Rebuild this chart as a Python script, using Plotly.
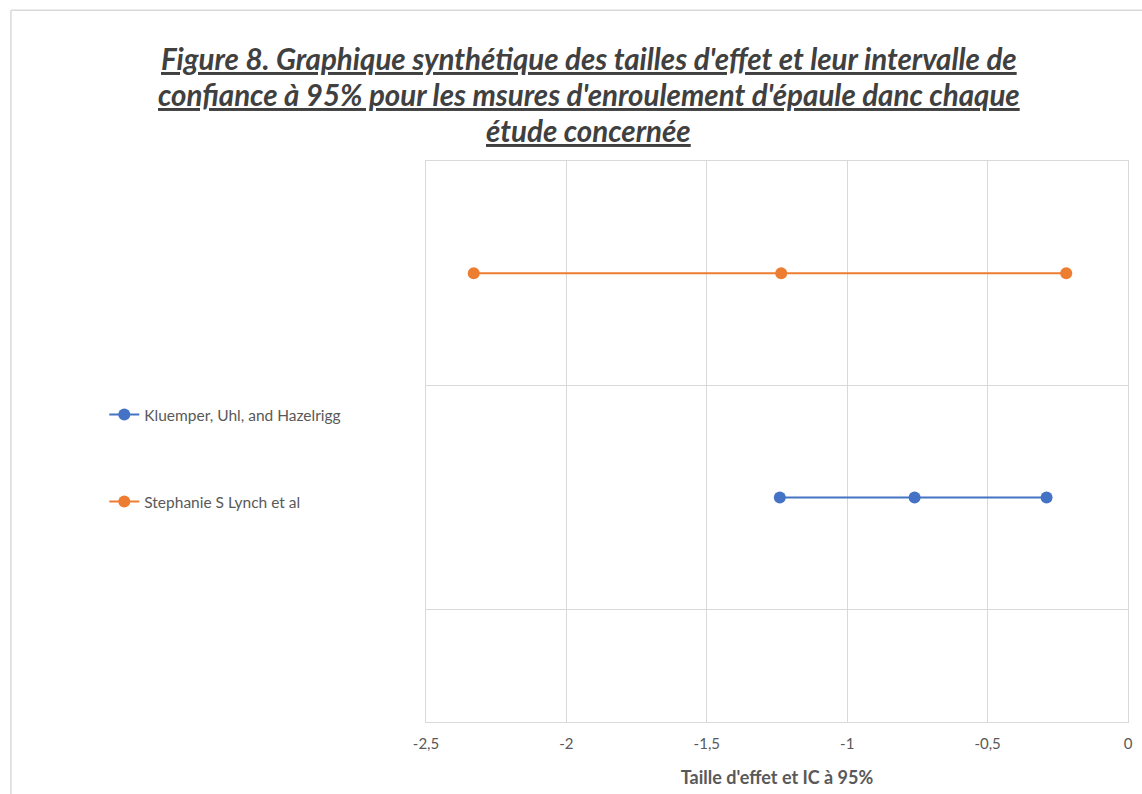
import plotly.graph_objects as go

# ---- data ----
studies = ["Kluemper, Uhl, and Hazelrigg", "Stephanie S Lynch et al"]
row_positions = [1, 2]
kluemper_x = [-1.24, -0.76, -0.29]     # lower CI, effect size, upper CI
lynch_x = [-2.33, -1.235, -0.22]       # lower CI, effect size, upper CI
x_tick_vals = [-2.5, -2, -1.5, -1, -0.5, 0]
x_tick_text = ["-2,5", "-2", "-1,5", "-1", "-0,5", "0"]
y_grid_vals = [0.5, 1.5, 2.5]
title_lines = [
    "Figure 8. Graphique synthétique des tailles d'effet et leur intervalle de",
    "confiance à 95% pour les msures d'enroulement d'épaule danc chaque",
    "étude concernée",
]

colors = ["#4472C4", "#ED7D31"]
series = [kluemper_x, lynch_x]

W, H = 1142, 794
L, R, T, B = 426, 1133, 161, 727

def px(sx):
    return (sx - L) / (R - L)

def py(sy):
    return (B - sy) / (B - T)

fig = go.Figure()
for i, (name, xs) in enumerate(zip(studies, series)):
    fig.add_trace(go.Scatter(
        x=xs, y=[row_positions[i]] * len(xs),
        mode="lines+markers", name=name, legendgroup=f"g{i}",
        line=dict(color=colors[i], width=2),
        marker=dict(color=colors[i], size=12),
    ))

font_family = "Lato, 'Open Sans', sans-serif"
grid = "#d9d9d9"
txt = "#595959"

fig.update_layout(
    width=W, height=H,
    margin=dict(l=L, r=W - R, t=T, b=H - B),
    paper_bgcolor="white", plot_bgcolor="white",
    font=dict(family=font_family, color=txt, size=13),
    xaxis=dict(
        range=[-2.5, 0], tickvals=x_tick_vals, ticktext=x_tick_text,
        showgrid=True, gridcolor=grid, gridwidth=1, zeroline=False,
        showline=True, linecolor=grid, mirror=True,
        ticks="", tickfont=dict(size=15, color=txt), ticklabelstandoff=8,
        title=dict(text="<b>Taille d'effet et IC à 95%</b>",
                   font=dict(size=18, color=txt), standoff=20),
    ),
    yaxis=dict(
        range=[0, 2.5], tickvals=y_grid_vals, showticklabels=False,
        showgrid=True, gridcolor=grid, gridwidth=1, zeroline=False,
        showline=True, linecolor=grid, mirror=True, ticks="",
    ),
    legend=dict(
        x=px(102), y=py(400), xanchor="left", yanchor="top",
        font=dict(size=15.5, color=txt), tracegroupgap=64,
        bgcolor="rgba(0,0,0,0)",
    ),
    showlegend=True,
)

for line_text, yc in zip(title_lines, [58, 94, 130]):
    fig.add_annotation(
        xref="paper", yref="paper", x=px(590), y=py(yc),
        xanchor="center", yanchor="middle", showarrow=False,
        text=f"<b><i><u>{line_text}</u></i></b>",
        font=dict(size=29.5, color="#404040", family=font_family),
    )

# outer chart border (top and left edges visible)
fig.add_shape(type="line", xref="paper", yref="paper",
              x0=px(8), x1=px(1160), y0=py(9), y1=py(9),
              line=dict(color="#d9d9d9", width=1.5))
fig.add_shape(type="line", xref="paper", yref="paper",
              x0=px(8), x1=px(8), y0=py(9), y1=py(810),
              line=dict(color="#d9d9d9", width=1.5))

fig.write_html(
    "out.html",
    config={"displayModeBar": False},
    post_script="document.body.style.margin='0';"
                "document.body.style.overflow='hidden';"
                "document.documentElement.style.overflow='hidden';",
)
